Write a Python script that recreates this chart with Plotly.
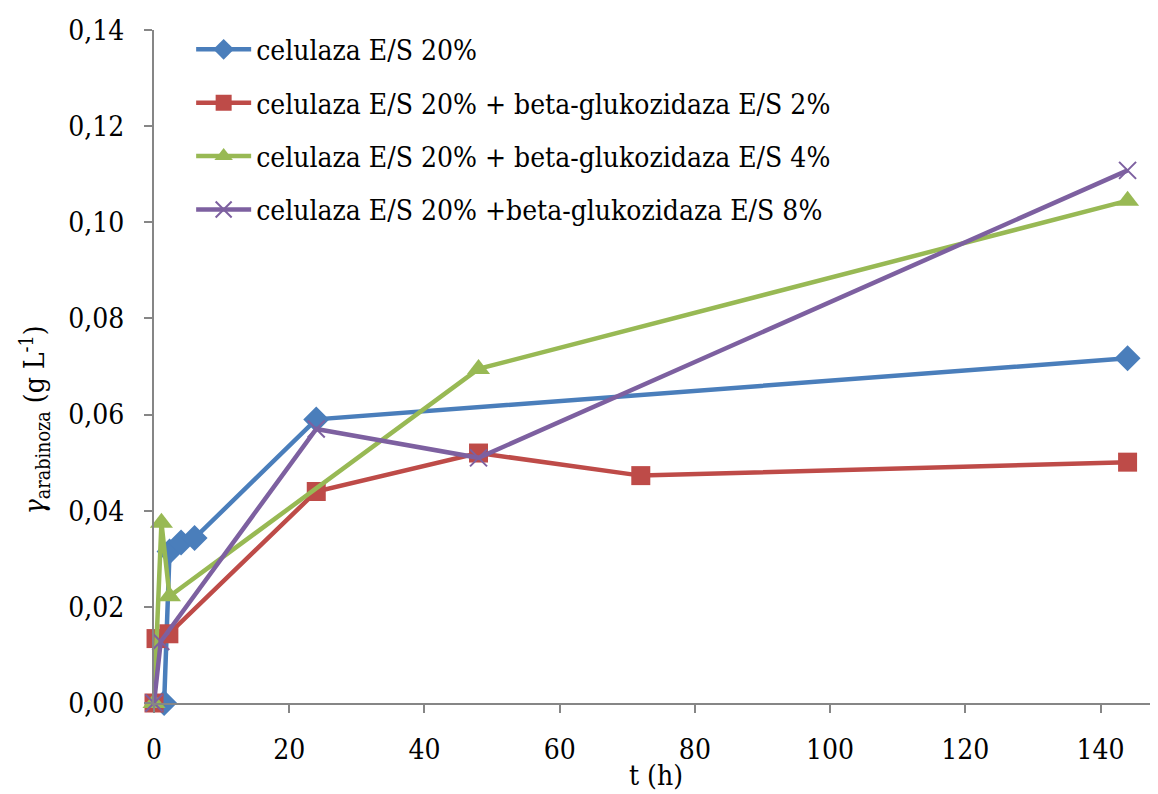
import plotly.graph_objects as go

# Data
names = [
    "celulaza E/S 20%",
    "celulaza E/S 20% + beta-glukozidaza E/S 2%",
    "celulaza E/S 20% + beta-glukozidaza E/S 4%",
    "celulaza E/S 20% +beta-glukozidaza E/S 8%",
]
t_blue = [1.5, 2.3, 4, 6, 24, 144]
y_blue = [0.0, 0.0315, 0.0334, 0.0343, 0.0590, 0.0717]
t_red = [0, 0.3, 2.2, 24, 48, 72, 144]
y_red = [0.0, 0.0134, 0.0144, 0.0440, 0.0520, 0.0473, 0.0501]
t_green = [0, 1.1, 2.3, 48, 144]
y_green = [0.0, 0.0375, 0.0222, 0.0695, 0.1045]
t_purple = [0, 1, 24, 48, 144]
y_purple = [0.0, 0.0128, 0.0570, 0.0510, 0.1108]

x_ticks = [0, 20, 40, 60, 80, 100, 120, 140]
y_ticks = [0, 0.02, 0.04, 0.06, 0.08, 0.10, 0.12, 0.14]
x_title = "t (h)"
y_title = "<i>γ</i><sub>arabinoza</sub> (g L<sup>-1</sup>)"

colors = ["#4a7ebb", "#be4b48", "#98b954", "#7d60a0"]
FONT = "DejaVu Serif Condensed"
FS = 28

fig = go.Figure()
series = [(t_blue, y_blue), (t_red, y_red), (t_green, y_green), (t_purple, y_purple)]
markers = [
    dict(symbol="diamond", size=20),
    dict(symbol="square", size=19),
    dict(symbol="triangle-up", size=20),
    dict(symbol="x-thin", size=17, line=dict(width=2, color=colors[3])),
]
for i, ((tx, ty), nm) in enumerate(zip(series, names)):
    fig.add_trace(go.Scatter(
        x=tx, y=ty, name=nm, mode="lines+markers",
        line=dict(color=colors[i], width=4.5),
        marker=dict(color=colors[i], **markers[i]),
        legendgroup=f"g{i}",
        cliponaxis=False,
    ))

axis_common = dict(
    showgrid=False, zeroline=False, showline=True, automargin=False,
    linecolor="#868686", linewidth=2,
    ticks="outside", ticklen=8, tickwidth=2, tickcolor="#868686",
    tickfont=dict(family=FONT, size=FS, color="black"),
)
fig.update_layout(
    width=1150, height=786,
    margin=dict(l=146, r=0, t=22, b=91),
    paper_bgcolor="white", plot_bgcolor="white",
    separators=", ",
    font=dict(family=FONT, color="black", size=FS),
    xaxis=dict(range=[0, 148.5], tickvals=x_ticks, ticklabelstandoff=12, **axis_common),
    yaxis=dict(range=[0, 0.14], tickvals=y_ticks, tickformat=".2f", ticklabelstandoff=14,
               **axis_common),
    legend=dict(x=0.037, y=1.008, xanchor="left", yanchor="top",
                font=dict(family=FONT, size=FS, color="black"), bgcolor="rgba(0,0,0,0)",
                itemwidth=55, tracegroupgap=14),
    showlegend=True,
    annotations=[
        dict(text=x_title, xref="paper", yref="paper", x=0.5, y=-0.107,
             xanchor="center", yanchor="middle", showarrow=False,
             font=dict(family=FONT, size=FS, color="black")),
        dict(text=y_title, xref="paper", yref="paper", x=0, y=0.42, xshift=-119,
             xanchor="center", yanchor="middle", showarrow=False, textangle=-90,
             font=dict(family=FONT, size=FS, color="black")),
    ],
)
fig.write_html("out.html")
